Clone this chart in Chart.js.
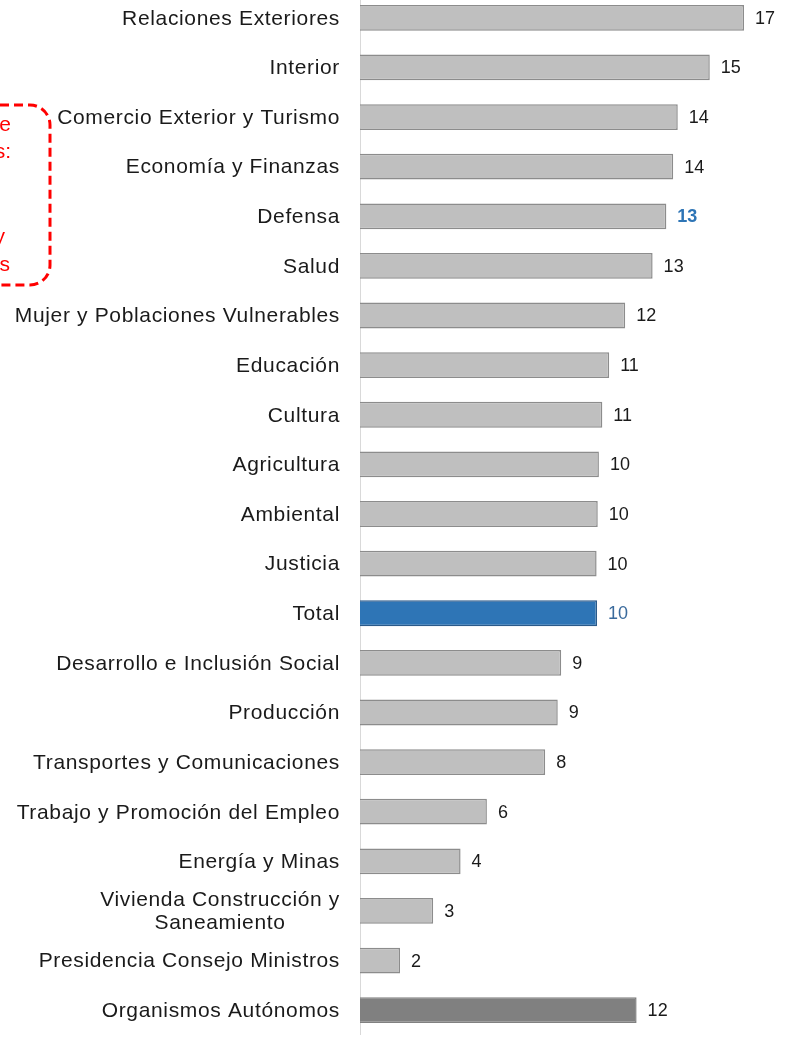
<!DOCTYPE html>
<html>
<head>
<meta charset="utf-8">
<script src="https://cdn.jsdelivr.net/npm/chart.js@4.4.1/dist/chart.umd.min.js"></script>
<style>
  html, body { margin: 0; padding: 0; background: #fff; overflow: hidden; }
  #wrap { position: absolute; left: 0; top: -7px; width: 788px; height: 1042px; }
</style>
</head>
<body>
<div id="wrap"><canvas id="chart"></canvas></div>
<script>
// sectors, top to bottom
const categories = [
  'Relaciones Exteriores',
  'Interior',
  'Comercio Exterior y Turismo',
  'Economía y Finanzas',
  'Defensa',
  'Salud',
  'Mujer y Poblaciones Vulnerables',
  'Educación',
  'Cultura',
  'Agricultura',
  'Ambiental',
  'Justicia',
  'Total',
  'Desarrollo e Inclusión Social',
  'Producción',
  'Transportes y Comunicaciones',
  'Trabajo y Promoción del Empleo',
  'Energía y Minas',
  ['Vivienda Construcción y', 'Saneamiento'],
  'Presidencia Consejo Ministros',
  'Organismos Autónomos'
];
const values = [16.8, 15.3, 13.9, 13.7, 13.4, 12.8, 11.6, 10.9, 10.6, 10.45, 10.4, 10.35,
                10.37, 8.8, 8.65, 8.1, 5.55, 4.4, 3.2, 1.75, 12.1];
// numbers printed next to the bars
const shownLabels = [17, 15, 14, 14, 13, 13, 12, 11, 11, 10, 10, 10, 10, 9, 9, 8, 6, 4, 3, 2, 12];
const xMax = 18;

const TOTAL = 12, AUTONOMOS = 20, DEFENSA = 4;
const SHIFT = 7; // canvas is moved up by this much

const fills = categories.map((c, i) => i === TOTAL ? '#2e75b6' : i === AUTONOMOS ? '#808080' : '#bfbfbf');
const borders = categories.map((c, i) => i === TOTAL ? '#2a5a8a' : i === AUTONOMOS ? '#808080' : '#8c8c8c');

const labelPlugin = {
  id: 'labelPlugin',
  afterDraw(chart) {
    const ctx = chart.ctx;
    const yScale = chart.scales.y;
    const area = chart.chartArea;
    ctx.save();

    // category names
    ctx.font = '21px "Liberation Sans", Arial, sans-serif';
    ctx.letterSpacing = '0.65px';
    ctx.fillStyle = '#1a1a1a';
    ctx.textBaseline = 'middle';
    ctx.textAlign = 'center';
    categories.forEach((c, i) => {
      const lines = Array.isArray(c) ? c : [c];
      const w = Math.max(...lines.map(l => ctx.measureText(l).width));
      const cx = area.left - 20 - w / 2;
      const cy = yScale.getPixelForTick(i);
      lines.forEach((l, k) => ctx.fillText(l, cx, cy + 1 + (k - (lines.length - 1) / 2) * 23));
    });

    // value labels
    ctx.letterSpacing = '0px';
    ctx.textAlign = 'left';
    const meta = chart.getDatasetMeta(0);
    meta.data.forEach((bar, i) => {
      if (i === DEFENSA) {
        ctx.font = 'bold 18px "Liberation Sans", Arial, sans-serif';
        ctx.fillStyle = '#2e75b6';
      } else if (i === TOTAL) {
        ctx.font = '18px "Liberation Sans", Arial, sans-serif';
        ctx.fillStyle = '#3a6a9c';
      } else {
        ctx.font = '18px "Liberation Sans", Arial, sans-serif';
        ctx.fillStyle = '#1a1a1a';
      }
      ctx.fillText(String(shownLabels[i]), bar.x + 11, bar.y + 1);
    });

    // red dashed callout, cut off at the left edge
    ctx.strokeStyle = '#ff0000';
    ctx.lineWidth = 3;
    ctx.setLineDash([9, 5]);
    ctx.beginPath();
    ctx.roundRect(-90, 105 + SHIFT, 140, 180, 20);
    ctx.stroke();
    ctx.setLineDash([]);
    ctx.fillStyle = '#ff0000';
    ctx.font = '21px "Liberation Sans", Arial, sans-serif';
    ctx.textAlign = 'right';
    ctx.fillText('e', 11, 125 + SHIFT);
    ctx.fillText('s:', 11, 152 + SHIFT);
    ctx.fillText('y', 5, 237 + SHIFT);
    ctx.fillText('s', 10, 265 + SHIFT);

    ctx.restore();
  }
};

new Chart(document.getElementById('chart').getContext('2d'), {
  type: 'bar',
  data: {
    labels: categories,
    datasets: [{
      data: values,
      backgroundColor: fills,
      borderColor: borders,
      borderWidth: 1.5,
      borderSkipped: 'left',
      barPercentage: 0.52,
      categoryPercentage: 1
    }]
  },
  options: {
    indexAxis: 'y',
    responsive: true,
    maintainAspectRatio: false,
    animation: false,
    layout: { padding: { left: 0, right: 16.5, top: 0, bottom: 0 } },
    plugins: {
      legend: { display: false },
      tooltip: { enabled: false }
    },
    scales: {
      x: { display: false, min: 0, max: xMax },
      y: {
        grid: { display: false, drawTicks: false },
        border: { display: true, color: '#d9d9d9', width: 1 },
        ticks: { display: false },
        afterFit(scale) { scale.width = 360; }
      }
    }
  },
  plugins: [labelPlugin]
});
</script>
</body>
</html>
